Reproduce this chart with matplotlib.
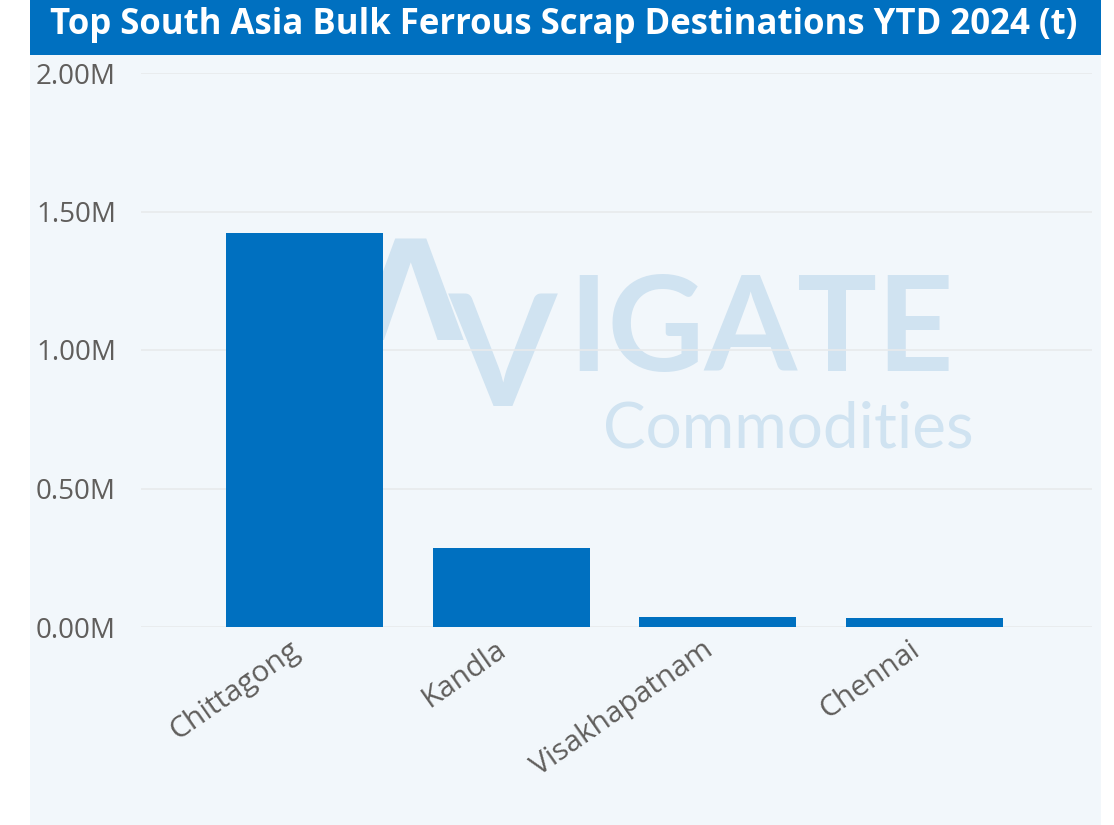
import matplotlib
matplotlib.use("Agg")
import matplotlib.pyplot as plt
from matplotlib.patches import Rectangle
from matplotlib.ticker import FuncFormatter
from matplotlib.transforms import ScaledTranslation

# ---- data ----
categories = ["Chittagong", "Kandla", "Visakhapatnam", "Chennai"]
values = [1_422_000, 285_000, 35_000, 31_000]
yticks = [0, 500_000, 1_000_000, 1_500_000, 2_000_000]
title = "Top South Asia Bulk Ferrous Scrap Destinations YTD 2024 (t)"

W, H = 1114, 825
fig = plt.figure(figsize=(W / 100, H / 100), dpi=100)
fig.patch.set_facecolor("white")

def px(x0, y0, x1, y1):
    return (x0 / W, 1 - y1 / H, (x1 - x0) / W, (y1 - y0) / H)

# panel background
bx, by, bw, bh = px(30, 0, 1101, 825)
fig.patches.append(Rectangle((bx, by), bw, bh, transform=fig.transFigure,
                             facecolor="#f2f7fb", edgecolor="none", zorder=-2))
# title bar
tx, ty, tw, th = px(30, 0, 1101, 55)
fig.patches.append(Rectangle((tx, ty), tw, th, transform=fig.transFigure,
                             facecolor="#0070c0", edgecolor="none", zorder=-1))
fig.text(564 / W, 1 - 25 / H, title, ha="center", va="center", color="white",
         fontsize=25, fontweight="bold", family="Open Sans", zorder=5)

ax = fig.add_axes(px(141, 73, 1092, 627))
ax.set_facecolor("none")
ax.set_zorder(2)

# watermark (behind grid and bars)
wm = "#d0e3f1"
T = fig.transFigure
ax.text(410 / W, 1 - 302 / H, "Λ", ha="center", va="center", color=wm,
        fontsize=100, family="DejaVu Sans", fontweight="bold", transform=T,
        zorder=0.5, clip_on=False)
ax.text(503 / W, 1 - 362 / H, "V", ha="center", va="center", color=wm,
        fontsize=112, family="Lato", fontweight="bold", transform=T,
        zorder=0.5, clip_on=False)
ax.text(568 / W, 1 - 333 / H, "IGATE", ha="left", va="center", color=wm,
        fontsize=96, family="Lato", fontweight="bold", transform=T,
        zorder=0.5, clip_on=False)
ax.text(603 / W, 1 - 430 / H, "Commodities", ha="left", va="center", color=wm,
        fontsize=46, family="Lato", transform=T, zorder=0.5, clip_on=False)

x = range(len(categories))
ax.bar(x, values, width=0.76, color="#0070c0", zorder=3)

ax.set_xlim(-0.79, 3.81)
ax.set_ylim(0, 2_000_000)
ax.set_yticks(yticks)
ax.yaxis.set_major_formatter(FuncFormatter(lambda v, p: f"{v/1e6:.2f}M"))
ax.grid(axis="y", color="#e8eaec", linewidth=1.2, zorder=1)
for s in ax.spines.values():
    s.set_visible(False)
ax.tick_params(axis="both", length=0, colors="#605e5c", labelsize=20)
ax.tick_params(axis="y", pad=18)
ax.set_xticks(list(x))
ax.set_xticklabels(categories, rotation=35, ha="right", va="top",
                   rotation_mode="anchor", family="Open Sans", fontsize=21.5)
ax.tick_params(axis="x", pad=6)
shift = ScaledTranslation(-16 / 100, 0, fig.dpi_scale_trans)
for lab in ax.get_xticklabels():
    lab.set_transform(lab.get_transform() + shift)
for lab in ax.get_yticklabels():
    lab.set_family("Open Sans")

fig.savefig("out.png", dpi=100)
